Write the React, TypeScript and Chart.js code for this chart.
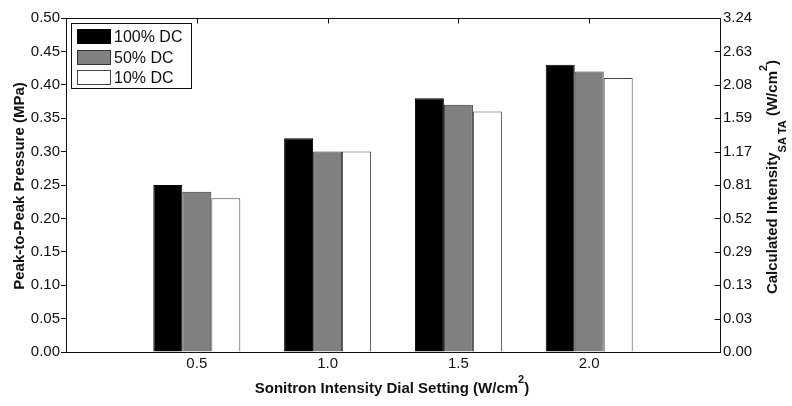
import React, { useEffect, useRef } from "react";
import { Chart, registerables } from "chart.js";

Chart.register(...registerables);

// ---- data ----
const categories = ["0.5", "1.0", "1.5", "2.0"];
const seriesLabels = ["100% DC", "50% DC", "10% DC"];
const dc100 = [0.25, 0.32, 0.38, 0.43];
const dc50 = [0.24, 0.3, 0.37, 0.42];
const dc10 = [0.23, 0.3, 0.36, 0.41];
const rightTickLabels = ["0.00", "0.03", "0.13", "0.29", "0.52", "0.81", "1.17", "1.59", "2.08", "2.63", "3.24"];
const xTitle = "Sonitron Intensity Dial Setting (W/cm";
const yTitle = "Peak-to-Peak Pressure (MPa)";
const y1TitleMain = "Calculated Intensity";
const y1TitleSub = "SA TA";
const y1TitleUnit = " (W/cm";

const FONT = "'Liberation Sans', Arial, Helvetica, sans-serif";
const fillColors = ["#000000", "#808080", "#ffffff"];
const borderColors = ["#000000", "#333333", "#444444"];

type Seg = { text: string; size: number; shift: number; bold: boolean };

function segWidth(ctx: CanvasRenderingContext2D, s: Seg) {
  ctx.font = `${s.bold ? "bold " : ""}${s.size}px ${FONT}`;
  return ctx.measureText(s.text).width;
}

function drawRich(ctx: CanvasRenderingContext2D, segs: Seg[], cx: number, baseY: number) {
  const total = segs.reduce((a, s) => a + segWidth(ctx, s), 0);
  let x = cx - total / 2;
  ctx.textBaseline = "alphabetic";
  ctx.textAlign = "left";
  for (const s of segs) {
    ctx.font = `${s.bold ? "bold " : ""}${s.size}px ${FONT}`;
    ctx.fillText(s.text, x, baseY + s.shift);
    x += ctx.measureText(s.text).width;
  }
}

const decorPlugin = {
  id: "decor",
  afterDraw(chart: any) {
    const ctx: CanvasRenderingContext2D = chart.ctx;
    const ca = chart.chartArea;
    const L = Math.round(ca.left) + 0.5;
    const R = Math.round(ca.right) + 0.5;
    const T = Math.round(ca.top) + 0.5;
    const B = Math.round(ca.bottom) + 0.5;
    ctx.save();
    // frame
    ctx.strokeStyle = "#111";
    ctx.lineWidth = 1;
    ctx.strokeRect(L, T, R - L, B - T);
    // right inward ticks
    const y1 = chart.scales.y1;
    ctx.beginPath();
    y1.ticks.forEach((t: any) => {
      const py = Math.round(y1.getPixelForValue(t.value)) + 0.5;
      ctx.moveTo(R, py);
      ctx.lineTo(R - 6, py);
    });
    // top inward ticks at category positions
    const xs = chart.scales.x;
    for (let i = 1; i <= categories.length; i++) {
      const px = Math.round(xs.getPixelForValue(i)) + 0.5;
      ctx.moveTo(px, T);
      ctx.lineTo(px, T + 5);
    }
    ctx.stroke();

    // legend
    const lx = Math.round(ca.left) + 5;
    const ly = Math.round(ca.top) + 5;
    ctx.fillStyle = "#fff";
    ctx.fillRect(lx, ly, 121, 66);
    ctx.strokeStyle = "#111";
    ctx.strokeRect(lx + 0.5, ly + 0.5, 120, 65);
    chart.data.datasets.forEach((ds: any, i: number) => {
      const py = ly + 6 + i * 20.5;
      ctx.fillStyle = ds.backgroundColor;
      ctx.fillRect(lx + 6, Math.round(py), 34, 15);
      ctx.strokeStyle = ds.borderColor;
      ctx.strokeRect(lx + 6.5, Math.round(py) + 0.5, 33, 14);
      ctx.fillStyle = "#111";
      ctx.font = `16px ${FONT}`;
      ctx.textAlign = "left";
      ctx.textBaseline = "alphabetic";
      ctx.fillText(ds.label, lx + 43, Math.round(py) + 13);
    });

    ctx.fillStyle = "#111";
    // x title
    drawRich(
      ctx,
      [
        { text: xTitle, size: 15, shift: 0, bold: true },
        { text: "2", size: 11, shift: -10, bold: true },
        { text: ")", size: 15, shift: 0, bold: true },
      ],
      (ca.left + ca.right) / 2 - 1,
      393
    );
    // left title
    ctx.save();
    ctx.translate(24, (ca.top + ca.bottom) / 2 + 1);
    ctx.rotate(-Math.PI / 2);
    drawRich(ctx, [{ text: yTitle, size: 15, shift: 0, bold: true }], 0, 0);
    ctx.restore();
    // right title
    ctx.save();
    ctx.translate(777, 177);
    ctx.rotate(-Math.PI / 2);
    drawRich(
      ctx,
      [
        { text: y1TitleMain, size: 15, shift: 0, bold: true },
        { text: y1TitleSub, size: 11, shift: 9, bold: true },
        { text: y1TitleUnit, size: 15, shift: 0, bold: true },
        { text: "2", size: 11, shift: -10, bold: true },
        { text: ")", size: 15, shift: 0, bold: true },
      ],
      0,
      0
    );
    ctx.restore();
    ctx.restore();
  },
};

export default function App() {
  const ref = useRef<HTMLCanvasElement | null>(null);
  useEffect(() => {
    if (!ref.current) return;
    const labels = ["", ...categories, ""];
    const pad = (a: number[]) => [null, ...a, null];
    const series = [dc100, dc50, dc10];
    const chart = new Chart(ref.current, {
      type: "bar",
      data: {
        labels,
        datasets: series.map((s, i) => ({
          label: seriesLabels[i],
          data: pad(s) as any,
          backgroundColor: fillColors[i],
          borderColor: borderColors[i],
          borderWidth: 1,
          categoryPercentage: 0.665,
          barPercentage: 1,
          yAxisID: "y",
        })),
      },
      options: {
        animation: false,
        responsive: false,
        events: [],
        layout: { padding: { top: 18, left: 0, right: 0, bottom: 0 } },
        plugins: { legend: { display: false }, tooltip: { enabled: false }, title: { display: false } },
        scales: {
          x: {
            type: "category",
            offset: false,
            grid: { display: false, drawTicks: false, offset: false },
            border: { display: false },
            ticks: {
              color: "#111",
              font: { family: FONT, size: 15 },
              padding: 3,
              maxRotation: 0,
              autoSkip: false,
            },
            afterFit: (s: any) => {
              s.height = 54;
            },
          },
          y: {
            position: "left",
            min: 0,
            max: 0.5,
            ticks: {
              stepSize: 0.05,
              color: "#111",
              font: { family: FONT, size: 15 },
              padding: 1,
              callback: (v: any) => Number(v).toFixed(2),
            },
            grid: { drawOnChartArea: false, drawTicks: true, tickLength: 5, color: "#111" },
            border: { display: false },
            afterFit: (s: any) => {
              s.width = 66;
            },
          },
          y1: {
            position: "right",
            display: true,
            min: 0,
            max: 0.5,
            ticks: {
              stepSize: 0.05,
              color: "#111",
              font: { family: FONT, size: 15 },
              padding: 3,
              callback: (_v: any, i: number) => rightTickLabels[i],
            },
            grid: { drawOnChartArea: false, drawTicks: false },
            border: { display: false },
            afterFit: (s: any) => {
              s.width = 72;
            },
          },
        },
      } as any,
      plugins: [decorPlugin],
    });
    return () => chart.destroy();
  }, []);
  return (
    <div style={{ position: "absolute", left: 0, top: 0, width: 792, height: 406, background: "#fff" }}>
      <canvas ref={ref} width={792} height={406} style={{ display: "block" }} />
    </div>
  );
}
